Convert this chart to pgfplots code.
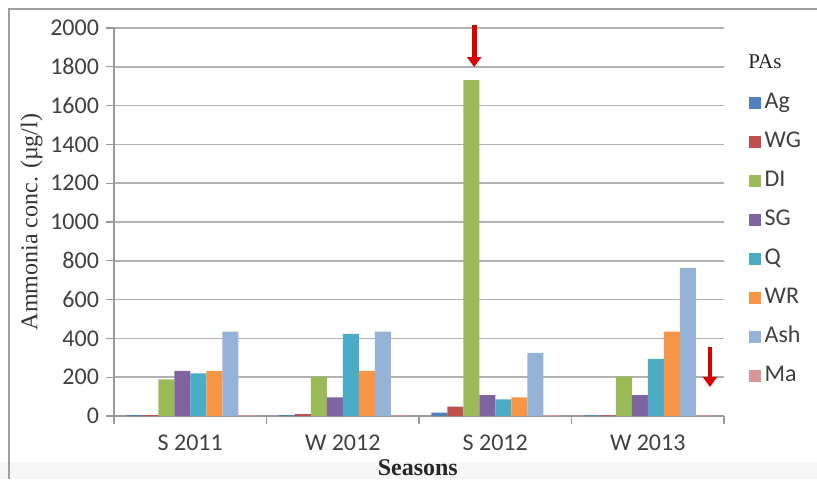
\documentclass[border=0pt]{standalone}
\usepackage{pgfplots}
\usepackage{pgfplotstable}
\pgfplotsset{compat=1.18}
\usepackage{fontspec}
\setmainfont{Liberation Serif}
\newfontfamily\calibri{Carlito}
\usetikzlibrary{arrows.meta}
\definecolor{cAg}{HTML}{4F81BD}
\definecolor{cWG}{HTML}{C0504D}
\definecolor{cDI}{HTML}{9BBB59}
\definecolor{cSG}{HTML}{8064A2}
\definecolor{cQ}{HTML}{4BACC6}
\definecolor{cWR}{HTML}{F79646}
\definecolor{cAsh}{HTML}{95B3D7}
\definecolor{cMa}{HTML}{D99694}
\definecolor{txt}{HTML}{404040}
\pgfplotstableread{
x Ag WG DI SG Q WR Ash Ma
0 5 5 189 233 220 233 435 3
1 5 10 203 96 423 233 435 3
2 17 48 1732 108 86 96 326 4
3 3 3 203 108 294 435 763 3
}\data
\begin{document}
\begin{tikzpicture}
\useasboundingbox (-57pt,-31.5pt) rectangle (351.5pt,208pt);
\fill[gray!7] (-57pt,-31.5pt) rectangle (351.5pt,-23pt);
\draw[gray!75, line width=1pt] (-52.5pt,-31.5pt) -- (-52.5pt,203.5pt) -- (351.5pt,203.5pt);
\begin{axis}[
  at={(0,0)}, anchor=south west,
  scale only axis, width=305pt, height=194pt,
  ybar=0pt, bar width=8pt,
  xmin=-0.5, xmax=3.5, ymin=0, ymax=2000,
  ytick={0,200,...,2000},
  xtick={-0.5,0.5,1.5,2.5,3.5}, xticklabels={},
  extra x ticks={0,1,2,3},
  extra x tick labels={S 2011, W 2012, S 2012, W 2013},
  extra x tick style={major tick length=0pt, grid=none, tick label style={yshift=-6pt}},
  axis x line*=bottom, axis y line*=left,
  axis line style={draw=gray!80, line width=0.8pt},
  tick style={draw=gray!80, line width=0.6pt},
  major tick length=4pt,
  tick align=outside,
  ymajorgrids, grid style={gray!60, line width=0.75pt},
  /pgf/number format/assume math mode=true,
  /pgf/number format/1000 sep={},
  tick label style={font=\calibri\fontsize{12}{14}\selectfont, text=txt},
  ylabel={Ammonia conc. (µg/l)},
  ylabel style={at={(axis description cs:-0.135,0.5)}, anchor=center, font=\fontsize{12}{14}\selectfont, text=black!80},
  xlabel={Seasons},
  xlabel style={at={(axis description cs:0.498,-0.134)}, anchor=center, font=\bfseries\fontsize{12}{14}\selectfont, text=black!85},
  legend style={at={(axis description cs:1.03,0.847)}, anchor=north west, draw=none, fill=none,
    font=\calibri\fontsize{12}{14}\selectfont, text=txt, row sep=8pt,
    nodes={inner ysep=1pt, inner xsep=2pt, text height=7.5pt, text depth=2pt}},
  legend cell align=left,
  legend image code/.code={\fill[#1] (0pt,-3pt) rectangle (6pt,3pt);},
  clip=false,
]
\addplot[fill=cAg, draw=none] table[x=x,y=Ag]{\data}; \addlegendentry{Ag}
\addplot[fill=cWG, draw=none] table[x=x,y=WG]{\data}; \addlegendentry{WG}
\addplot[fill=cDI, draw=none] table[x=x,y=DI]{\data}; \addlegendentry{DI}
\addplot[fill=cSG, draw=none] table[x=x,y=SG]{\data}; \addlegendentry{SG}
\addplot[fill=cQ, draw=none] table[x=x,y=Q]{\data}; \addlegendentry{Q}
\addplot[fill=cWR, draw=none] table[x=x,y=WR]{\data}; \addlegendentry{WR}
\addplot[fill=cAsh, draw=none] table[x=x,y=Ash]{\data}; \addlegendentry{Ash}
\addplot[fill=cMa, draw=none] table[x=x,y=Ma]{\data}; \addlegendentry{Ma}
\draw[red!85!black, line width=2.4pt, -{Triangle[width=7pt,length=5pt]}] (axis cs:1.862,2015) -- (axis cs:1.862,1799);
\draw[red!85!black, line width=2.4pt, -{Triangle[width=7pt,length=5pt]}] (axis cs:3.408,356) -- (axis cs:3.408,150);
\node[font=\fontsize{10.5}{12}\selectfont, text=black!85] at (axis description cs:1.067,0.912) {PAs};
\end{axis}
\end{tikzpicture}
\end{document}
